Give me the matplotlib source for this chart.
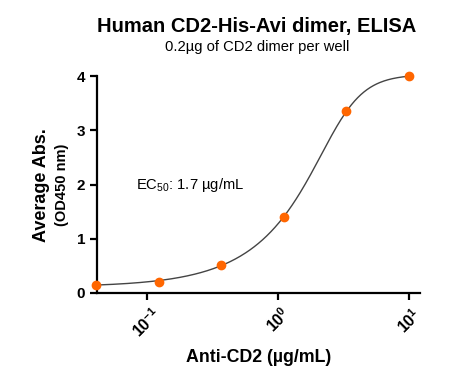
import matplotlib
matplotlib.use('Agg')
import matplotlib.pyplot as plt
import numpy as np

plt.rcParams['font.family'] = ['Liberation Sans', 'DejaVu Sans']
plt.rcParams['mathtext.fontset'] = 'custom'
plt.rcParams['mathtext.rm'] = 'Liberation Sans'
plt.rcParams['mathtext.bf'] = 'Liberation Sans:bold'

conc = [10.0, 3.333, 1.111, 0.370, 0.123, 0.041]
absorb = [4.00, 3.35, 1.41, 0.52, 0.21, 0.15]
ec50_label = 'EC$_{50}$: 1.7 µg/mL'
dot_clr = '#ff6600'


def fit_5pl(xs, ys):
    # vectorised grid search, bottom/top solved by least squares for each (c, hill, asym)
    xs, ys = np.asarray(xs), np.asarray(ys)
    C, H, S = np.meshgrid(np.logspace(-0.5, 1.0, 61), np.linspace(0.6, 4.0, 69),
                          np.logspace(-0.8, 0.6, 57), indexing='ij')
    g = 1.0 / (1.0 + (C[..., None] / xs) ** H[..., None]) ** S[..., None]
    u = 1 - g
    suu, sug, sgg = (u * u).sum(-1), (u * g).sum(-1), (g * g).sum(-1)
    suy, sgy = (u * ys).sum(-1), (g * ys).sum(-1)
    det = suu * sgg - sug ** 2
    b = (suy * sgg - sgy * sug) / det
    t = (suu * sgy - sug * suy) / det
    err = ((b[..., None] * u + t[..., None] * g - ys) ** 2).sum(-1)
    i = np.unravel_index(np.nanargmin(err), err.shape)
    return b[i], t[i], C[i], H[i], S[i]


def main():
    fig = plt.figure(figsize=(4.51, 3.77), dpi=100)
    ax = fig.add_axes([0.215, 0.223, 0.716, 0.575])

    b, t, c, h, s = fit_5pl(conc, absorb)
    xx = np.logspace(np.log10(min(conc)), np.log10(max(conc)), 300)
    ax.plot(xx, b + (t - b) / (1 + (c / xx) ** h) ** s, color='#444444', lw=1.0, zorder=2)
    ax.plot(conc, absorb, 'o', color=dot_clr, ms=6, mec=dot_clr, clip_on=False, zorder=3)

    ax.set_xscale('log')
    ax.set_xlim(0.0416, 12.1)
    ax.set_ylim(0, 4)
    ax.set_yticks([0, 1, 2, 3, 4])
    ax.set_xticks([0.1, 1, 10])
    ax.set_xticklabels(['$\\mathbf{10^{-1}}$', '$\\mathbf{10^{0}}$', '$\\mathbf{10^{1}}$'],
                       rotation=45, ha='center', va='top', fontsize=11.5)
    ax.minorticks_off()
    for sp in ['top', 'right']:
        ax.spines[sp].set_visible(False)
    for sp in ['left', 'bottom']:
        ax.spines[sp].set_linewidth(1.6)
    ax.tick_params(width=1.6, length=5)
    ax.tick_params(axis='y', labelsize=11)
    for lbl in ax.get_yticklabels():
        lbl.set_fontweight('bold')

    ax.set_xlabel('Anti-CD2 (µg/mL)', fontsize=12.8, fontweight='bold', labelpad=6)
    fig.text(0.093, 0.51, 'Average Abs.', rotation=90, ha='center', va='center',
             fontsize=13, fontweight='bold')
    fig.text(0.137, 0.51, '(OD450 nm)', rotation=90, ha='center', va='center',
             fontsize=10.5, fontweight='bold')

    fig.text(0.57, 0.931, 'Human CD2-His-Avi dimer, ELISA', ha='center', va='center',
             fontsize=14.5, fontweight='bold')
    fig.text(0.57, 0.875, '0.2µg of CD2 dimer per well', ha='center', va='center', fontsize=10.6)
    ax.text(0.12, 0.5, ec50_label, transform=ax.transAxes, fontsize=10.6, va='center')

    fig.savefig('out.png', dpi=100)


if __name__ == '__main__':
    main()
